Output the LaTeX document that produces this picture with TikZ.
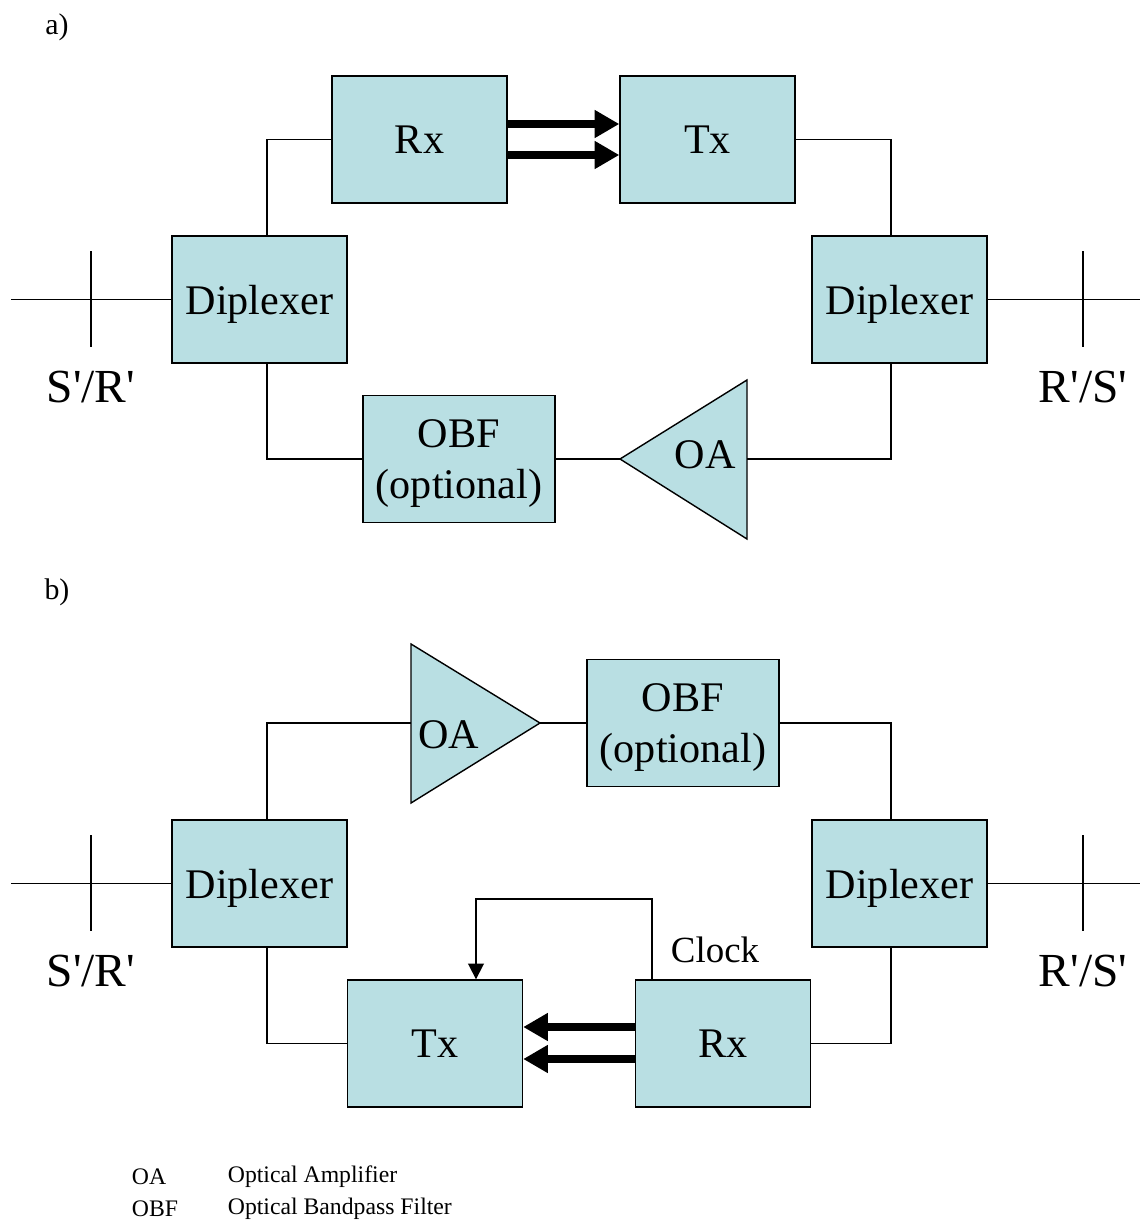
\documentclass[tikz,border=0pt]{standalone}
\usepackage{fontspec}
\setmainfont{Liberation Serif}
\usetikzlibrary{arrows.meta,positioning}
\definecolor{boxfill}{RGB}{185,223,227}
\newcommand{\pr}{\textquotesingle}
\begin{document}
\begin{tikzpicture}[x=0.02cm, y=-0.02cm, line width=1pt,
    blk/.style={draw, fill=boxfill, line width=0.8pt, inner sep=0pt,
        minimum width=3.5cm, minimum height=2.54cm, align=center,
        text depth=0pt, font=\fontsize{24}{29}\selectfont},
    obf/.style={blk, minimum width=3.84cm},
    amp/.style={draw, fill=boxfill, line width=0.8pt},
    lbl/.style={font=\fontsize{24}{29}\selectfont},
    end/.style={font=\fontsize{27}{32}\selectfont},
    fat/.style={line width=4.3pt, -{Triangle[length=14pt, width=15pt]}},
    clk/.style={-{Triangle[length=9pt, width=9pt]}},
    leg/.style={anchor=west, inner sep=0pt, font=\fontsize{13.5}{16}\selectfont}]
\useasboundingbox (0,0) rectangle (1140,1220);

% a)
\node[lbl, font=\fontsize{17}{20}\selectfont] (ta) at (57,27) {a)};
\node[blk] (rxa) at (419.5,139.5) {Rx};
\node[blk] (txa) at (707.5,139.5) {Tx};
\node[blk] (dla) at (259.5,299.5) {Diplexer};
\node[blk] (dra) at (899.5,299.5) {Diplexer};
\node[obf] (obfa) at (459,459) {OBF\\(optional)};
\draw[amp] (620,459) -- (747,380) -- (747,539) -- cycle;
\coordinate (oaatip) at (620,459);
\coordinate (oaabase) at (747,459);
\node[lbl] (oaa) at (705,455) {OA};
\coordinate (la) at (11,299.5);
\coordinate (ra) at (1140,299.5);
\node[end] (sra) at (91,387) {S\pr/R\pr};
\node[end] (rsa) at (1083,387) {R\pr/S\pr};

\draw (rxa.west) -| ([xshift=0.15cm]dla.north);
\draw (txa.east) -| ([xshift=-0.17cm]dra.north);
\draw ([xshift=0.15cm]dla.south) |- (obfa.west);
\draw (obfa.east) -- (oaatip);
\draw (oaabase) -| ([xshift=-0.17cm]dra.south);
\draw (la) -- (dla.west);
\draw (dra.east) -- (ra);
\draw (91,251) -- (91,347);
\draw (1083,251) -- (1083,347);
\draw[fat] ([yshift=0.31cm]rxa.east) -- ([yshift=0.31cm]txa.west);
\draw[fat] ([yshift=-0.31cm]rxa.east) -- ([yshift=-0.31cm]txa.west);

% b)
\node[lbl, font=\fontsize{17}{20}\selectfont] (tb) at (57,592) {b)};
\draw[amp] (540,723) -- (411,644) -- (411,803) -- cycle;
\coordinate (oabtip) at (540,723);
\coordinate (oabbase) at (411,723);
\node[lbl] (oab) at (449,735) {OA};
\node[obf] (obfb) at (683,723) {OBF\\(optional)};
\node[blk] (dlb) at (259.5,883.5) {Diplexer};
\node[blk] (drb) at (899.5,883.5) {Diplexer};
\node[blk] (txb) at (435,1043.5) {Tx};
\node[blk] (rxb) at (723,1043.5) {Rx};
\coordinate (lb) at (11,883.5);
\coordinate (rb) at (1140,883.5);
\node[end] (srb) at (91,971) {S\pr/R\pr};
\node[end] (rsb) at (1083,971) {R\pr/S\pr};
\node[lbl, font=\fontsize{21}{25}\selectfont] (clock) at (715,950) {Clock};

\draw ([xshift=0.15cm]dlb.north) |- (oabbase);
\draw (oabtip) -- (obfb.west);
\draw (obfb.east) -| ([xshift=-0.17cm]drb.north);
\draw ([xshift=0.15cm]dlb.south) |- (txb.west);
\draw ([xshift=-0.17cm]drb.south) |- (rxb.east);
\draw (lb) -- (dlb.west);
\draw (drb.east) -- (rb);
\draw (91,835) -- (91,931);
\draw (1083,835) -- (1083,931);
\draw[fat] ([yshift=0.33cm]rxb.west) -- ([yshift=0.33cm]txb.east);
\draw[fat] ([yshift=-0.31cm]rxb.west) -- ([yshift=-0.31cm]txb.east);
\draw[clk] ([xshift=-1.42cm]rxb.north) |- ([xshift=0.82cm, yshift=1.6cm]txb.north)
    -- ([xshift=0.82cm]txb.north);

% legend
\node[leg] (k1) at (131,1177) {OA};
\node[leg] (v1) at (227,1177) {Optical Amplifier};
\node[leg] (k2) at (131,1209) {OBF};
\node[leg] (v2) at (227,1209) {Optical Bandpass Filter};
\end{tikzpicture}
\end{document}
